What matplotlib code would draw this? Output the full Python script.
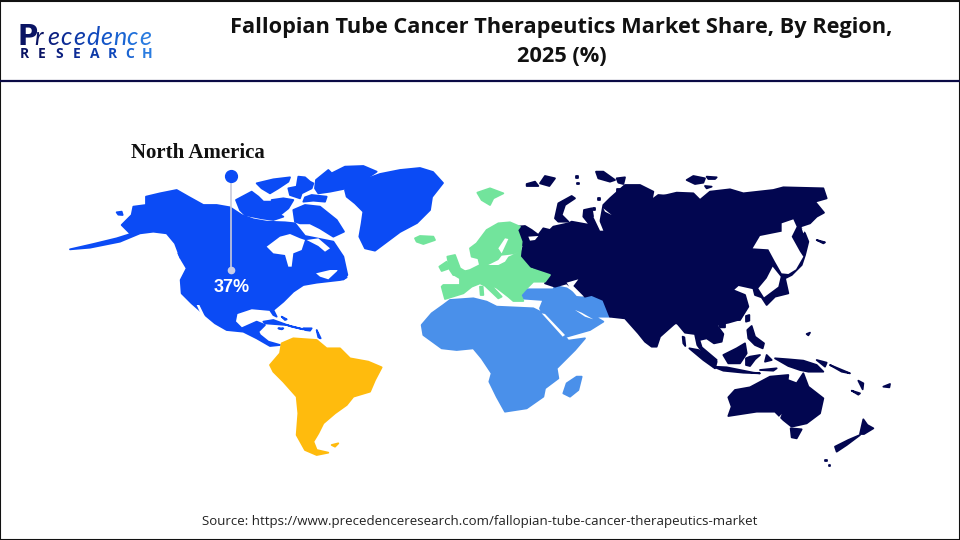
import matplotlib
matplotlib.use("Agg")
import matplotlib.pyplot as plt

AMERICA = (60, 130)
CANADA = (230, 160)
CARIB = (170, 260)
EMEA = (400, 170)
EUROPE = (430, 215)
ASIA_W = (510, 160)
ASIA_E = (660, 160)
OCEANIA = (660, 310)

na_main = [
    [(258, 200), (300, 190), (350, 180), (385, 200), (430, 225), (470, 225), (510, 232), (545, 255), (580, 268),
     (620, 275), (675, 277), (705, 280), (735, 318), (820, 335), (850, 380), (862, 435), (850, 448), (840, 450),
     (770, 458), (730, 465), (700, 485), (670, 515), (640, 540), (650, 560), (640, 555), (630, 540), (575, 535),
     (530, 550), (525, 575), (545, 595), (590, 575), (615, 585), (595, 605), (600, 615), (625, 635), (660, 645),
     (630, 648), (590, 625), (550, 605), (500, 600), (465, 580), (435, 555), (395, 520), (365, 490), (362, 450),
     (380, 415), (365, 390), (360, 380), (345, 340), (320, 310), (280, 305), (240, 310), (180, 335), (90, 353),
     (30, 358), (100, 342), (170, 325), (240, 303), (210, 310), (185, 285), (215, 255), (220, 230), (258, 225)],
    [(170, 247), (185, 245), (188, 255), (175, 254)],
    [(355, 370), (365, 375), (362, 385)],
]
na_arctic = [
    [(18, 120), (65, 95), (85, 110), (100, 125), (135, 125), (130, 155), (160, 170), (130, 180), (95, 175), (45, 165),
     (30, 150)],
    [(80, 70), (130, 58), (180, 52), (175, 65), (145, 85), (120, 100), (95, 85)],
    [(125, 120), (160, 115), (190, 120), (175, 145), (150, 165), (130, 160)],
    [(175, 85), (200, 80), (205, 50), (225, 52), (240, 65), (250, 70), (245, 85), (215, 100), (210, 115), (180, 105)],
    [(245, 105), (290, 110), (285, 125), (250, 122), (220, 125), (225, 112)],
    [(258, 60), (295, 30), (305, 40), (345, 20), (400, 18), (440, 35), (395, 65), (350, 85), (300, 95), (265, 100),
     (255, 85)],
    [(190, 150), (225, 135), (270, 140), (320, 180), (342, 215), (310, 230), (270, 205), (240, 190), (210, 190),
     (195, 185)],
    [(345, 90), (395, 62), (450, 42), (510, 30), (570, 24), (609, 36), (639, 69), (606, 111), (600, 150), (561, 189),
     (510, 216), (435, 272), (405, 265), (388, 230), (395, 190), (400, 155), (375, 130), (350, 110)],
]
na_holes = [
    [(110, 260), (150, 230), (180, 222), (210, 235), (225, 240), (215, 270), (190, 280), (185, 320), (175, 320),
     (165, 285), (130, 280)],
    [(258, 340), (300, 330), (325, 330), (295, 358), (270, 350)],
    [(230, 240), (265, 235), (300, 265), (285, 275), (265, 258)],
]
na_islands = [
    [(325, 332), (350, 352), (340, 358), (322, 345)],
]
carib_islands = [
    [(280, 185), (310, 180), (365, 200), (400, 208), (350, 195), (285, 190)],
    [(400, 205), (425, 205), (420, 212), (405, 210)],
    [(325, 205), (340, 205), (335, 208)],
    [(335, 170), (350, 178), (345, 180)],
    [(440, 210), (452, 235), (445, 232)],
]
baja_hole = [[(410, 525), (418, 525), (440, 570), (430, 570)]]

south_america = [
    [(630, 705), (660, 670), (665, 640), (700, 625), (770, 630), (800, 655), (840, 655), (870, 685), (925, 695),
     (965, 712), (945, 750), (930, 785), (880, 800), (860, 825), (825, 850), (790, 880), (775, 910), (760, 935),
     (770, 960), (805, 968), (770, 975), (735, 960), (710, 915), (715, 850), (710, 800), (670, 755), (640, 725)],
    [(815, 945), (835, 940), (825, 950)],
]

europe_main = [
    [(35, 215), (40, 210), (90, 210), (90, 190), (70, 178), (120, 165), (150, 150), (145, 130), (125, 125), (120, 100),
     (140, 85), (170, 45), (205, 25), (240, 22), (270, 35), (262, 45), (275, 80), (270, 125), (300, 160), (360, 180),
     (345, 200), (310, 200), (285, 225), (272, 240), (280, 258), (250, 258), (235, 245), (200, 218), (180, 208),
     (215, 245), (205, 250), (165, 212), (150, 205), (125, 215), (100, 235), (45, 252)],
    [(52, 125), (75, 120), (90, 160), (107, 170), (70, 180), (60, 165)],
    [(28, 155), (50, 140), (58, 160), (35, 168)],
    [(150, 215), (158, 215), (160, 240), (152, 240)],
]
europe_far = [
    [(45, 205), (60, 198), (100, 200), (105, 210), (70, 222), (50, 215)],
    [(232, 68), (270, 55), (310, 70), (280, 85), (270, 105), (245, 90)],
]
europe_holes = [
    [(205, 100), (225, 70), (235, 72), (222, 100), (215, 115)],
    [(175, 150), (205, 135), (215, 122), (250, 118), (268, 110), (235, 125), (225, 140), (205, 150)],
]

africa = [
    [(65, 465), (95, 430), (130, 405), (150, 390), (220, 385), (260, 395), (290, 410), (400, 415), (430, 430),
     (465, 470), (495, 500), (505, 512), (555, 505), (525, 540), (470, 595), (475, 625), (435, 655), (430, 680),
     (380, 715), (315, 725), (290, 680), (268, 635), (275, 610), (245, 565), (220, 535), (170, 540), (125, 535),
     (70, 495)],
    [(530, 620), (545, 620), (535, 660), (510, 680), (490, 670), (500, 640)],
]
middle_east = [
    [(30, 395), (50, 388), (130, 388), (135, 378), (170, 385), (200, 405), (225, 410), (245, 405), (280, 420),
     (300, 470), (255, 470), (280, 485), (240, 510), (170, 530), (100, 465), (90, 445), (100, 420), (30, 415)],
]
middle_east_holes = [
    [(95, 460), (105, 462), (165, 525), (158, 530)],
    [(195, 450), (215, 458), (250, 478), (225, 470)],
]

asia_west = [
    [(22, 200), (45, 198), (65, 210), (85, 225), (100, 205), (120, 210), (130, 200), (175, 190), (185, 185), (240, 195),
     (220, 170), (222, 150), (245, 145), (250, 175), (270, 190), (280, 135), (300, 115), (345, 75), (390, 75),
     (430, 95), (425, 120), (445, 105), (500, 110), (520, 105), (520, 490), (495, 490), (450, 530), (440, 560),
     (425, 560), (405, 545), (385, 520), (345, 475), (300, 470), (280, 420), (245, 405), (225, 410), (200, 395),
     (170, 370), (135, 380), (105, 370), (120, 345), (60, 320), (30, 290), (40, 260)],
    [(135, 175), (145, 130), (185, 108), (195, 115), (165, 135), (155, 165), (175, 185), (145, 185)],
    [(50, 72), (75, 65), (85, 78), (50, 78)],
    [(90, 70), (105, 48), (135, 55), (118, 78)],
    [(258, 35), (280, 35), (315, 60), (300, 65), (265, 55)],
    [(320, 55), (345, 52), (340, 72), (325, 68)],
    [(198, 49), (204, 49), (204, 53), (198, 53)],
    [(201, 69), (207, 69), (207, 73), (201, 73)],
    [(264, 114), (270, 114), (270, 120), (264, 120)],
    [(250, 145), (256, 145), (256, 150), (250, 150)],
    [(320, 87), (333, 87), (333, 95), (320, 95)],
]
asia_west_holes = [
    [(55, 230), (85, 228), (75, 240), (60, 242)],
    [(250, 170), (265, 175), (280, 212), (270, 212)],
    [(280, 145), (305, 165), (285, 155)],
    [(170, 368), (205, 358), (190, 378), (222, 410), (200, 408), (180, 385)],
]
asia_east = [
    [(0, 110), (50, 98), (100, 100), (120, 120), (150, 95), (210, 88), (250, 100), (340, 90), (370, 82), (490, 85),
     (500, 115), (465, 125), (492, 158), (470, 170), (450, 190), (420, 200), (435, 220), (445, 245), (435, 285),
     (425, 315), (395, 345), (375, 355), (385, 400), (345, 410), (320, 435), (305, 412), (285, 405), (280, 385),
     (235, 375), (218, 390), (255, 405), (265, 440), (240, 480), (0, 480)],
    [(80, 60), (100, 48), (135, 55), (130, 68), (105, 72)],
    [(140, 50), (170, 52), (165, 57), (145, 57)],
    [(135, 78), (155, 80), (140, 85)],
    [(470, 240), (495, 247), (490, 250)],
]
asia_east_holes = [
    [(365, 190), (400, 178), (410, 200), (395, 230), (420, 275), (430, 290), (408, 328), (385, 342), (365, 340),
     (345, 305), (325, 268), (278, 265), (300, 228), (365, 215)],
    [(338, 320), (362, 350), (355, 380), (312, 412), (295, 385), (320, 355)],
    [(425, 205), (440, 205), (430, 220)],
]
oceania = [
    [(0, 0), (255, 0), (240, 28), (205, 38), (170, 45), (190, 72), (185, 95), (162, 100), (140, 85), (118, 90),
     (125, 112), (170, 150), (165, 156), (130, 130), (112, 105), (105, 72), (75, 68), (50, 38), (0, 55)],
    [(178, 45), (195, 40), (195, 52), (180, 52)],
    [(258, 18), (268, 15), (268, 32), (258, 35)],
    [(262, 60), (275, 48), (285, 80), (312, 100), (308, 115), (285, 105), (265, 85)],
    [(88, 115), (115, 120), (170, 155), (165, 175), (130, 150)],
    [(68, 80), (73, 82), (76, 108), (70, 100)],
    [(160, 170), (200, 172), (280, 188), (300, 190), (250, 188), (190, 182)],
    [(190, 135), (230, 115), (255, 100), (260, 130), (240, 160), (205, 160)],
    [(258, 145), (270, 140), (300, 135), (285, 148), (270, 168), (258, 165)],
    [(345, 145), (385, 148), (430, 152), (470, 165), (490, 185), (445, 185), (420, 180), (385, 168)],
    [(470, 150), (500, 158), (495, 170)],
    [(510, 165), (570, 190), (545, 185)],
    [(320, 135), (335, 150), (315, 155)],
    [(300, 180), (350, 175), (340, 182)],
    [(205, 262), (225, 240), (270, 232), (330, 200), (385, 195), (383, 210), (410, 220), (430, 190), (445, 230),
     (490, 265), (480, 310), (440, 340), (395, 350), (370, 330), (345, 305), (290, 305), (205, 318), (215, 290)],
    [(392, 355), (425, 358), (410, 385), (395, 382)],
    [(610, 328), (622, 345), (640, 355), (612, 372), (600, 372)],
    [(600, 375), (560, 405), (530, 425), (525, 410), (565, 390)],
    [(670, 230), (690, 222), (688, 232)],
    [(575, 242), (600, 250), (595, 254)],
    [(595, 212), (610, 220), (608, 238)],
    [(440, 72), (450, 68), (445, 76)],
    [(496, 449), (500, 449), (500, 452), (496, 452)],
    [(506, 466), (509, 466), (509, 469), (506, 469)],
]
oceania_holes = [
    [(350, 328), (365, 312), (360, 325)],
]

NA_BLUE = "#0b4bf5"
SA_YELLOW = "#ffbb0d"
EU_GREEN = "#72e49c"
MEA_BLUE = "#4a90ea"
ASIA_NAVY = "#020650"
SEA = "white"

# drawn in this order, seas are painted over the land they cut
layers = [
    (na_main, AMERICA, NA_BLUE),
    (na_holes, CANADA, SEA),
    (baja_hole, AMERICA, SEA),
    (na_arctic, CANADA, NA_BLUE),
    (na_islands, CANADA, NA_BLUE),
    (carib_islands, CARIB, NA_BLUE),
    (south_america, AMERICA, SA_YELLOW),
    (africa, EMEA, MEA_BLUE),
    (middle_east, ASIA_W, MEA_BLUE),
    (middle_east_holes, ASIA_W, SEA),
    (asia_west, ASIA_W, ASIA_NAVY),
    (asia_east, ASIA_E, ASIA_NAVY),
    (oceania, OCEANIA, ASIA_NAVY),
    (asia_west_holes, ASIA_W, SEA),
    (asia_east_holes, ASIA_E, SEA),
    (oceania_holes, OCEANIA, SEA),
    (europe_main, EUROPE, EU_GREEN),
    (europe_far, EMEA, EU_GREEN),
    (europe_holes, EUROPE, SEA),
]

title_lines = ["Fallopian Tube Cancer Therapeutics Market Share, By Region,", "2025 (%)"]
source = "Source: https://www.precedenceresearch.com/fallopian-tube-cancer-therapeutics-market"
highlight_region = "North America"
highlight_value = "37%"
logo_word = "recedence"
logo_sub = "RESEARCH"
logo_colors = ["#0a1464", "#0c2080", "#0d2c96", "#0e3aa8", "#1048bc", "#1456c8", "#1a64d2", "#2070da", "#2a7ce0"]
sub_colors = ["#0a1464", "#0a1464", "#0c2080", "#0d2c96", "#0e3aa8", "#1048bc", "#1a64d2", "#2a7ce0"]


def to_px(points, origin):
    return [origin[0] + x / 3 for x, y in points], [origin[1] + y / 3 for x, y in points]


fig = plt.figure(figsize=(9.6, 5.4), dpi=100)
ax = fig.add_axes([0, 0, 1, 1])
ax.set_xlim(0, 960)
ax.set_ylim(540, 0)
ax.axis("off")

for shapes, origin, color in layers:
    for shape in shapes:
        xs, ys = to_px(shape, origin)
        ax.fill(xs, ys, color=color, lw=1.3 if color != SEA else 0, joinstyle="round")

# frame and header rule
ax.plot([0, 960, 960, 0, 0], [0.5, 0.5, 539.5, 539.5, 0.5], color="#111111", lw=1.5, zorder=5)
ax.plot([0, 960], [81, 81], color="#0a0a45", lw=1.6, zorder=5)

# title
for y, line in zip([27, 56], title_lines):
    ax.text(561.5, y, line, ha="center", va="center", fontsize=15.7, fontweight="bold",
            family="Open Sans", color="#111111")

# logo, letters one by one for the colour fade
ax.text(18, 45, "P", fontsize=20, fontweight="bold", family="DejaVu Sans", color="#0a1464", ha="left", va="baseline")
for i, ch in enumerate(logo_word):
    ax.text(34 + i * 13.2, 45, ch, fontsize=18, style="italic", family="Lato", color=logo_colors[i],
            ha="left", va="baseline")
for i, ch in enumerate(logo_sub):
    ax.text(24 + i * 17.6, 54, ch, fontsize=10, fontweight="bold", family="Open Sans", color=sub_colors[i],
            ha="center", va="center")

# callout
ax.plot([231, 231], [176, 270], color="#c8cada", lw=1.2, zorder=6)
ax.plot([231], [176], "o", ms=8.5, color=NA_BLUE, zorder=7)
ax.plot([231], [270], "o", ms=4.5, color="#c9cde8", zorder=7)
ax.text(197.5, 153, highlight_region, ha="center", va="center", fontsize=15, fontweight="bold",
        family="Liberation Serif", color="#111111", zorder=7)
ax.text(232, 288, highlight_value, ha="center", va="center", fontsize=13, fontweight="bold",
        family="Liberation Sans", color="white", zorder=7)

# source
ax.text(480, 521, source, ha="center", va="center", fontsize=9.55, family="Open Sans", color="#222222")

fig.savefig("out.png", dpi=100)
